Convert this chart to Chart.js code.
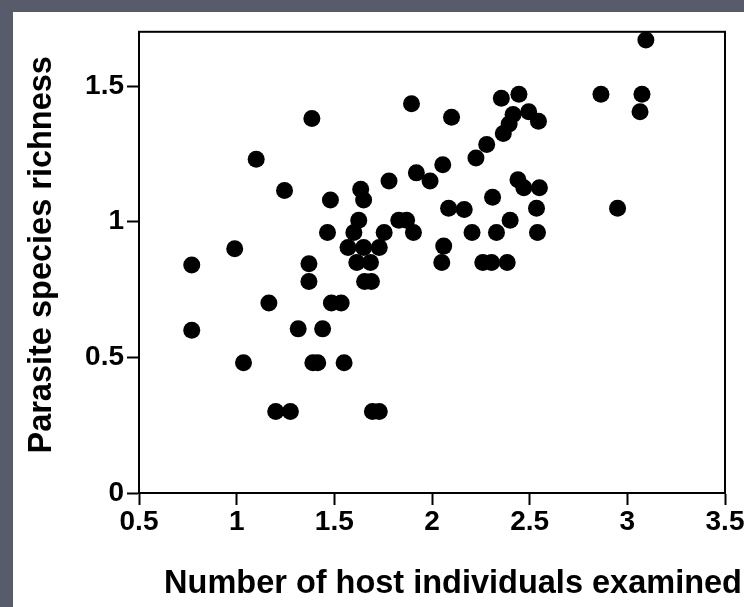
<!DOCTYPE html>
<html>
<head>
<meta charset="utf-8">
<script src="https://cdn.jsdelivr.net/npm/chart.js@4.4.1/dist/chart.umd.min.js"></script>
<style>
  html, body { margin: 0; padding: 0; width: 744px; height: 607px; overflow: hidden; background: #585b69; }
  #wrap { position: absolute; left: 13px; top: 12px; width: 767px; height: 595px; }
  canvas { display: block; }
</style>
</head>
<body>
<div id="wrap"><canvas id="c" width="767" height="595"></canvas></div>
<script>
// Number of host individuals examined (x) vs parasite species richness (y)
const hostIndividuals = [
  0.77, 0.77, 0.99, 1.035, 1.10, 1.165, 1.20, 1.245, 1.275, 1.315,
  1.37, 1.37, 1.385, 1.39, 1.415, 1.44, 1.465, 1.48, 1.485, 1.535,
  1.55, 1.57, 1.60, 1.615, 1.625, 1.635, 1.65, 1.65, 1.655, 1.685,
  1.69, 1.695, 1.73, 1.73, 1.755, 1.78, 1.83, 1.87, 1.895, 1.905,
  1.92, 1.99, 2.05, 2.055, 2.06, 2.085, 2.10, 2.165, 2.205, 2.225,
  2.26, 2.28, 2.305, 2.31, 2.33, 2.355, 2.365, 2.385, 2.40, 2.395,
  2.415, 2.44, 2.445, 2.47, 2.495, 2.535, 2.54, 2.545, 2.55, 2.865,
  2.95, 3.065, 3.075, 3.095
];
const speciesRichness = [
  0.84, 0.60, 0.90, 0.48, 1.23, 0.70, 0.30, 1.115, 0.30, 0.605,
  0.845, 0.78, 1.38, 0.48, 0.48, 0.605, 0.96, 1.08, 0.70, 0.70,
  0.48, 0.905, 0.96, 0.85, 1.005, 1.12, 1.08, 0.905, 0.78, 0.85,
  0.78, 0.30, 0.30, 0.905, 0.96, 1.15, 1.005, 1.005, 1.435, 0.96,
  1.18, 1.15, 0.85, 1.21, 0.91, 1.05, 1.385, 1.045, 0.96, 1.235,
  0.85, 1.285, 0.85, 1.09, 0.96, 1.455, 1.325, 0.85, 1.005, 1.36,
  1.395, 1.155, 1.47, 1.125, 1.405, 1.05, 0.96, 1.37, 1.125, 1.47,
  1.05, 1.405, 1.47, 1.67
];
const xTickValues = [0.5, 1, 1.5, 2, 2.5, 3, 3.5];
const xTickLabels = ['0.5', '1', '1.5', '2', '2.5', '3', '3.5'];
const yTickValues = [0, 0.5, 1, 1.5];
const yTickLabels = ['0', '0.5', '1', '1.5'];
const xTitle = 'Number of host individuals examined';
const yTitle = 'Parasite species richness';

const points = hostIndividuals.map((x, i) => ({ x: x, y: speciesRichness[i] }));

const FONT = '"Liberation Sans", Arial, Helvetica, sans-serif';

const framePlugin = {
  id: 'frame',
  beforeDraw(chart) {
    const ctx = chart.ctx;
    ctx.save();
    ctx.fillStyle = '#ffffff';
    ctx.fillRect(0, 0, chart.width, chart.height);
    ctx.restore();
  },
  afterDraw(chart) {
    const ctx = chart.ctx;
    const a = chart.chartArea;
    ctx.save();
    ctx.strokeStyle = '#000';
    ctx.lineWidth = 2;
    ctx.strokeRect(a.left, a.top, a.right - a.left, a.bottom - a.top);
    ctx.fillStyle = '#000';
    ctx.font = 'bold 32.5px ' + FONT;
    ctx.textAlign = 'center';
    ctx.textBaseline = 'alphabetic';
    ctx.fillText(xTitle, a.left + 314, 581);
    ctx.translate(38, a.top + 223);
    ctx.rotate(-Math.PI / 2);
    ctx.fillText(yTitle, 0, 0);
    ctx.restore();
  }
};

new Chart(document.getElementById('c'), {
  type: 'scatter',
  data: {
    datasets: [{
      data: points,
      backgroundColor: '#000',
      borderWidth: 0,
      pointRadius: 8.5,
      pointHoverRadius: 8.5
    }]
  },
  options: {
    responsive: false,
    animation: false,
    events: [],
    layout: { padding: { left: 0, top: 16, right: 55, bottom: 0 } },
    plugins: { legend: { display: false }, tooltip: { enabled: false } },
    scales: {
      x: {
        type: 'linear',
        min: 0.5,
        max: 3.5,
        afterBuildTicks(scale) { scale.ticks = xTickValues.map(v => ({ value: v })); },
        afterFit(scale) { scale.height = 114; },
        border: { display: true, color: '#000', width: 2 },
        grid: { drawOnChartArea: false, drawTicks: true, tickLength: 12, tickWidth: 2, color: '#000' },
        ticks: {
          autoSkip: false,
          maxRotation: 0,
          padding: 0,
          color: '#000',
          font: { family: FONT, size: 28, weight: 'bold' },
          callback: (v) => xTickLabels[xTickValues.indexOf(v)]
        }
      },
      y: {
        type: 'linear',
        min: 0,
        max: 1.7,
        afterBuildTicks(scale) { scale.ticks = yTickValues.map(v => ({ value: v })); },
        afterFit(scale) { scale.width = 126; },
        border: { display: true, color: '#000', width: 2 },
        grid: { drawOnChartArea: false, drawTicks: true, tickLength: 12, tickWidth: 2, color: '#000' },
        ticks: {
          autoSkip: false,
          padding: 3,
          color: '#000',
          font: { family: FONT, size: 28, weight: 'bold' },
          callback: (v) => yTickLabels[yTickValues.indexOf(v)]
        }
      }
    }
  },
  plugins: [framePlugin]
});
</script>
</body>
</html>
